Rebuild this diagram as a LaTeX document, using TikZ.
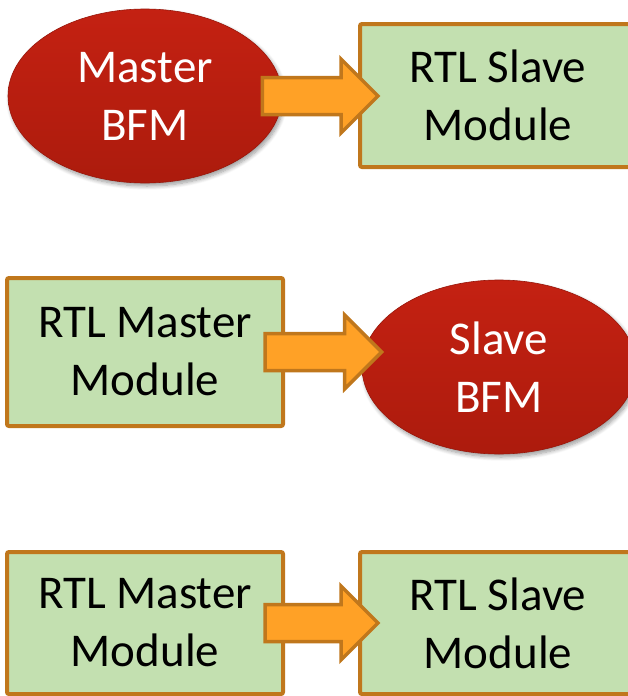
\documentclass[tikz,border=0pt]{standalone}
\usepackage{fontspec}
\setmainfont{Carlito}
\usetikzlibrary{calc,shapes.geometric,shadows.blur}
\definecolor{bfmtop}{HTML}{C42112}
\definecolor{bfmbot}{HTML}{AC1B0D}
\definecolor{bfmedge}{HTML}{98170B}
\definecolor{modfill}{HTML}{C3E0B0}
\definecolor{modedge}{HTML}{C0771C}
\definecolor{arrfill}{HTML}{FFA126}
\tikzset{
  label font/.style={font=\fontsize{47}{58}\selectfont, align=center},
  bfm/.style={ellipse, label font, text=white, inner sep=0pt,
    minimum width=274pt, minimum height=174pt,
    top color=bfmtop, bottom color=bfmbot, draw=bfmedge, line width=0.6pt,
    blur shadow={shadow xshift=2pt, shadow yshift=-3pt, shadow blur radius=4pt,
      shadow blur steps=8, shadow opacity=40}},
  module/.style={rectangle, label font, text=black, fill=modfill, draw=modedge,
    line width=4pt, rounded corners=2pt, minimum width=276pt},
  blockarrow/.style={fill=arrfill, draw=modedge, line width=3.5pt, line join=miter}
}
% block arrow from the first node to the second, overlapping both ends
\newcommand\fatarrow[2]{%
  \draw[blockarrow] let \p1=($(#1.east)+(-20pt,0pt)$), \p2=($(#2.west)+(20pt,0pt)$) in
    (\x1,\y1+18.5pt) -- (\x2-37pt,\y1+18.5pt) -- (\x2-37pt,\y1+37pt) -- (\x2,\y1)
    -- (\x2-37pt,\y1-37pt) -- (\x2-37pt,\y1-18.5pt) -- (\x1,\y1-18.5pt) -- cycle;}
\begin{document}
\begin{tikzpicture}[x=1pt,y=-1pt]
  \useasboundingbox (0,0) rectangle (627,696);

  % row 1: master BFM driving an RTL slave
  \node[bfm] (mbfm) at (145,96) {Master\\BFM};
  \node[module, minimum height=143pt] (rslave1) at (498,95.5) {RTL Slave\\Module};

  % row 2: RTL master driving a slave BFM
  \node[module, minimum height=148pt] (rmaster1) at (145,352) {RTL Master\\Module};
  \node[bfm] (sbfm) at (499,367) {Slave\\BFM};

  % row 3: RTL master driving an RTL slave
  \node[module, minimum height=142pt] (rmaster2) at (145,623) {RTL Master\\Module};
  \node[module, minimum height=142pt] (rslave2) at (498,623) {RTL Slave\\Module};

  \fatarrow{mbfm}{rslave1}
  \fatarrow{rmaster1}{sbfm}
  \fatarrow{rmaster2}{rslave2}
\end{tikzpicture}
\end{document}
